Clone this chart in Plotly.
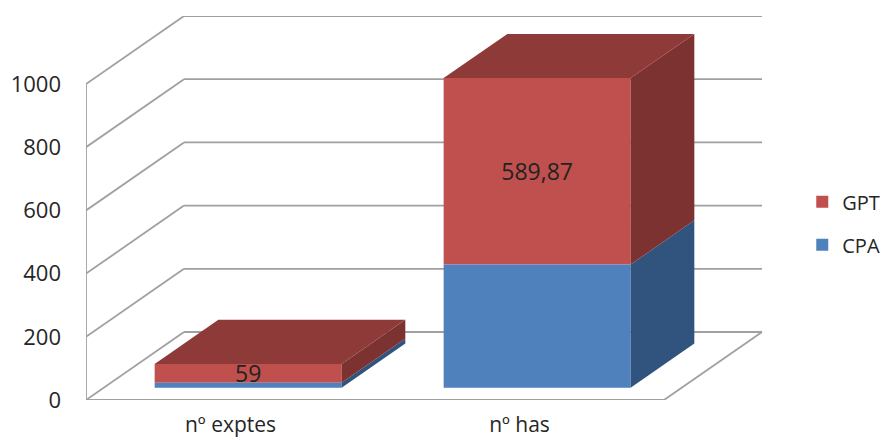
import plotly.graph_objects as go

# Data
categories = ["nº exptes", "nº has"]
cpa_values = [16, 390]
gpt_values = [59, 589.87]
gpt_labels = ["59", "589,87"]
y_ticks = [0, 200, 400, 600, 800, 1000]

# 3D look: pseudo-depth projected through the axes' own units
WALL_DX, WALL_DY = 98 / 289, 68 / 0.316   # full depth, x units and y units
BAR_W = 0.647
D0, D1 = 0.18, 0.83                       # bar depth extent, as a fraction of the full depth
X_MAX = -0.5 + 677 / 289
Y_MAX = 384 / 0.316
LAST_X = 1.5


def proj(x, v, d):
    return x + d * WALL_DX, v + d * WALL_DY


GRID = "#A0A0A0"
shapes = []


def seg(p, q):
    shapes.append(dict(type="line", xref="x", yref="y", x0=p[0], y0=p[1], x1=q[0], y1=q[1],
                       layer="below", line=dict(color=GRID, width=1.8)))


for t in y_ticks:
    seg(proj(-0.5, t, 0), proj(-0.5, t, 1))
    seg(proj(-0.5, t, 1), proj(LAST_X, t, 1))
seg(proj(-0.5, 0, 0), proj(-0.5, y_ticks[-1], 0))
seg(proj(-0.5, 0, 0), proj(LAST_X, 0, 0))
seg(proj(LAST_X, 0, 0), proj(LAST_X, 0, 1))

fig = go.Figure()


def poly(points, color):
    fig.add_trace(go.Scatter(x=[p[0] for p in points], y=[p[1] for p in points], mode="lines",
                             fill="toself", fillcolor=color, line=dict(width=0, color=color),
                             hoverinfo="skip", showlegend=False))


base_shift = D0 * WALL_DY
x_front = [i + D0 * WALL_DX for i in range(len(categories))]

fig.add_trace(go.Bar(x=x_front, y=gpt_values, base=[base_shift + c for c in cpa_values], width=BAR_W,
                     name="GPT", marker=dict(color="#C0504D", line=dict(width=0)), legendgroup="b",
                     text=gpt_labels, textposition="inside", insidetextanchor="middle",
                     textangle=0, constraintext="none",
                     textfont=dict(color="#222222", size=23, family="Open Sans")))
fig.add_trace(go.Bar(x=x_front, y=cpa_values, base=[base_shift] * 2, width=BAR_W, name="CPA",
                     marker=dict(color="#4F81BD", line=dict(width=0)), legendgroup="a"))

for i in range(len(categories)):
    l, r = i - BAR_W / 2, i + BAR_W / 2
    c, g = cpa_values[i], gpt_values[i]
    poly([proj(r, 0, D0), proj(r, 0, D1), proj(r, c, D1), proj(r, c, D0)], "#31547F")
    poly([proj(r, c, D0), proj(r, c, D1), proj(r, c + g, D1), proj(r, c + g, D0)], "#7C3230")
    poly([proj(l, c + g, D0), proj(r, c + g, D0), proj(r, c + g, D1), proj(l, c + g, D1)], "#8E3A38")

fig.update_layout(
    width=892, height=440, margin=dict(l=78, r=137, t=8, b=48, autoexpand=False),
    paper_bgcolor="white", plot_bgcolor="white", barmode="overlay", shapes=shapes,
    font=dict(family="Open Sans", color="#262626", size=20),
    xaxis=dict(range=[-0.5, X_MAX], tickmode="array", tickvals=list(range(len(categories))),
               ticktext=categories, showgrid=False, zeroline=False, showline=False, ticks="",
               automargin=False, ticklabelstandoff=10, tickfont=dict(size=21)),
    yaxis=dict(range=[0, Y_MAX], tickmode="array", tickvals=y_ticks, showgrid=False, zeroline=False,
               showline=False, ticks="", automargin=False, ticklabelstandoff=24, tickfont=dict(size=22)),
    legend=dict(x=1.058, y=0.46, xanchor="left", yanchor="middle", traceorder="grouped",
                tracegroupgap=14, font=dict(size=20), itemwidth=30, bgcolor="rgba(0,0,0,0)"),
    showlegend=True,
)
fig.write_html("out.html")
